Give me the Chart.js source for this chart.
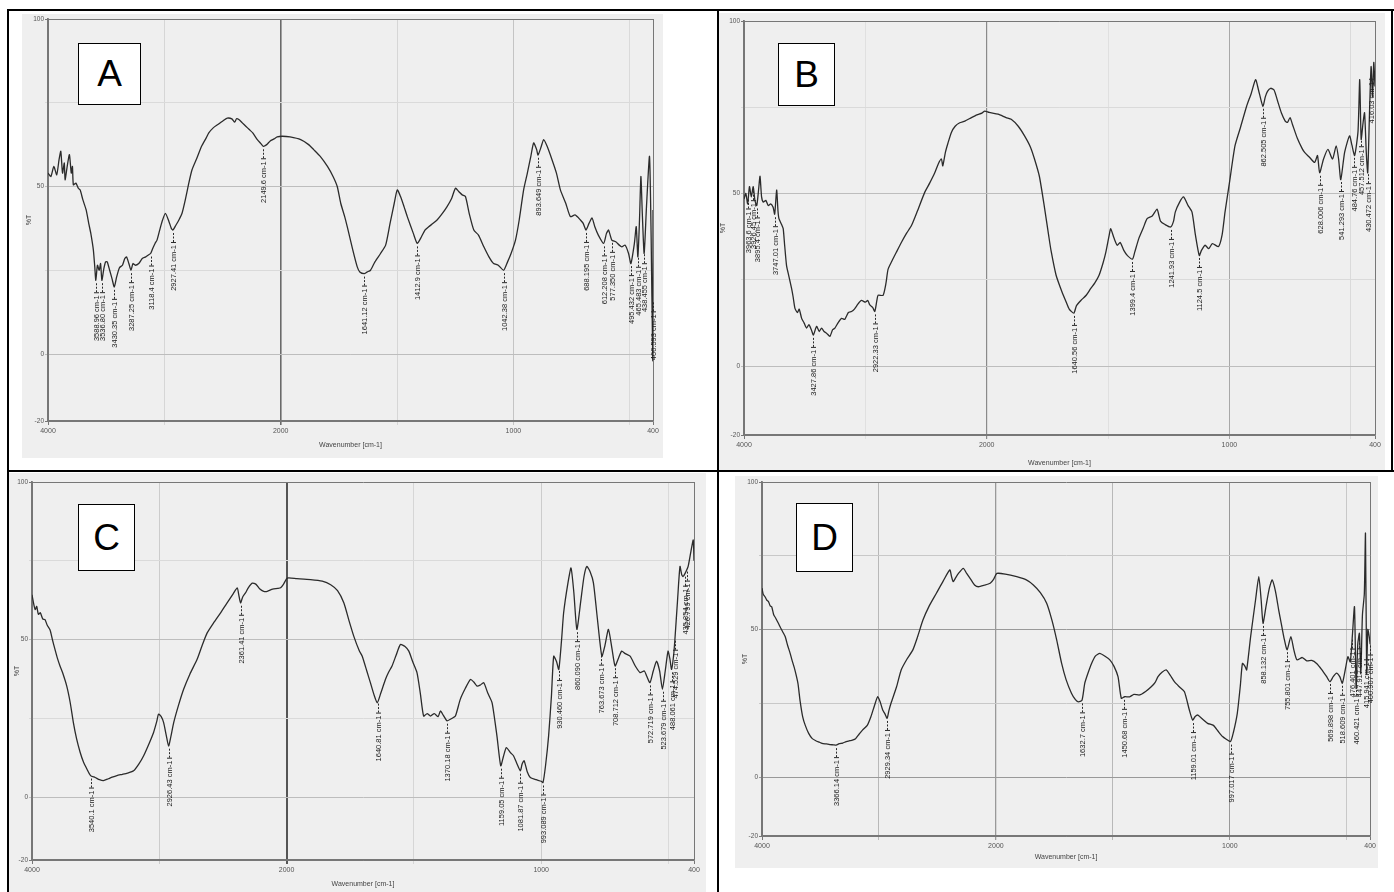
<!DOCTYPE html>
<html>
<head>
<meta charset="utf-8">
<script src="https://cdn.jsdelivr.net/npm/chart.js@4/dist/chart.umd.min.js"></script>
<style>
  html, body { margin: 0; padding: 0; background: #fff; }
  #page { position: relative; width: 1394px; height: 892px; overflow: hidden; background: #fff; }
  .rule { position: absolute; background: #000; }
  .panel { position: absolute; }
  .tag { position: absolute; background: #fff; border: 1px solid #000; box-sizing: border-box;
         font: 37px "Liberation Sans", Arial, sans-serif; color: #000;
         display: flex; align-items: center; justify-content: center; }
</style>
</head>
<body>
<div id="page">
  <div class="rule" style="left:7px;top:9px;width:1387px;height:2px"></div>
  <div class="rule" style="left:7px;top:9px;width:2px;height:883px"></div>
  <div class="rule" style="left:717px;top:9px;width:2px;height:883px"></div>
  <div class="rule" style="left:7px;top:470px;width:1387px;height:2px"></div>
  <div class="rule" style="left:1391px;top:9px;width:2px;height:463px"></div>

  <canvas id="chartA" class="panel" style="left:22px;top:14px" width="641" height="444"></canvas>
  <canvas id="chartB" class="panel" style="left:719px;top:13px" width="666" height="457"></canvas>
  <canvas id="chartC" class="panel" style="left:9px;top:473px" width="697" height="419"></canvas>
  <canvas id="chartD" class="panel" style="left:735px;top:476px" width="643" height="392"></canvas>

  <div class="tag" style="left:78px;top:43px;width:63px;height:62px">A</div>
  <div class="tag" style="left:778px;top:43px;width:57px;height:63px">B</div>
  <div class="tag" style="left:78px;top:504px;width:57px;height:67px">C</div>
  <div class="tag" style="left:796px;top:503px;width:57px;height:69px">D</div>
</div>
<script>
// ejes comunes
const xTickValues = [4000, 3000, 2000, 1500, 1000, 500, 400];
const xTickLabels = [4000, 2000, 1000, 400];
const yTickValues = [-20, 0, 25, 50, 75, 100];
const yTickLabels = [100, 50, 0, -20];

// espectro A
const wnA = [4000,3975,3950,3925,3905,3890,3875,3860,3853,3835,
  3816,3800,3790,3782,3760,3740,3724,3700,3672,3650,
  3632,3610,3598,3589,3575,3560,3548,3537,3520,3505,
  3491,3470,3450,3430,3410,3385,3360,3340,3325,3305,
  3287,3270,3250,3220,3190,3160,3140,3118,3100,3080,
  3063,3040,3020,2991,2960,2940,2927,2900,2875,2848,
  2820,2790,2762,2720,2680,2640,2618,2580,2540,2500,
  2460,2420,2395,2380,2360,2330,2300,2270,2240,2201,
  2170,2150,2120,2090,2057,2030,1993,1960,1914,1880,
  1858,1830,1799,1775,1757,1742,1725,1714,1690,1671,
  1660,1641,1628,1614,1595,1571,1549,1530,1512,1499,
  1485,1470,1456,1430,1413,1395,1380,1364,1345,1328,
  1310,1285,1265,1249,1235,1220,1206,1190,1170,1150,
  1127,1105,1085,1065,1042,1025,1010,991,975,956,
  940,925,913,900,894,880,870,855,834,815,
  798,775,755,735,712,700,688,675,662,650,
  635,612,600,591,577,560,545,534,520,505,
  495,480,472,465,458,452,446,438,428,415,
  408,401,400];
const tA = [54,53,56,53.5,58,60.5,54,57,52,56,
  59.5,54,56,50.5,51,49.5,49,46,43,39,
  36,31,26,22,26.5,25,27,22,25.5,27.5,
  27.5,25,22.5,20,23,25.8,26.5,28.5,29,27,
  25,27,26.5,27,28.5,29,29.5,30,31.5,33,
  34,37,39.5,42,39.5,37.5,37,38.5,40,42,
  46,51,55,58.5,62,64.5,66,67.5,68.5,69.5,
  70.4,70.2,69.2,70.2,70,69,68,67,66,64,
  62.8,62,62.5,63.6,64.2,64.8,65,64.8,64,62.5,
  61,59,56,53,50,45,41,38,31,26,
  24.5,24,24.5,25,27.5,30,32.5,39,45,49,
  47,44,41,36,33,35,37,38,39,40,
  41.5,44,46.5,49.5,48.5,47.5,47,42,37,35.5,
  32,29,27,26.5,25,27.5,30,34,40,49,
  54,59,63,61,59.4,62,64,62,58,54,
  49,45,41,41.5,40,39,37,39,40.6,38,
  35.5,33,36,37,34,33.5,32.5,32,32.5,30,
  27,33,38,29,40,53,42,30,44,59,
  35,-2,43];
const peaksA = ['3588.96 cm-1','3536.80 cm-1','3430.35 cm-1','3287.25 cm-1','3118.4 cm-1',
  '2927.41 cm-1','2149.6 cm-1','1641.12 cm-1','1412.9 cm-1','1042.38 cm-1','893.649 cm-1',
  '688.195 cm-1','612.208 cm-1','577.350 cm-1','495.432 cm-1','465.483 cm-1','438.455 cm-1','400.593 cm-1'];

// espectro B
const wnB = [4000,3985,3970,3955,3940,3924,3910,3895,3880,3868,
  3855,3841,3820,3800,3780,3760,3747,3731,3720,3712,
  3690,3677,3665,3649,3630,3608,3595,3580,3560,3545,
  3525,3505,3484,3465,3445,3428,3402,3380,3361,3340,
  3320,3292,3270,3251,3225,3196,3170,3140,3114,3090,
  3060,3032,3000,2980,2963,2940,2922,2905,2895,2854,
  2830,2813,2780,2744,2700,2660,2620,2570,2510,2470,
  2428,2400,2373,2362,2340,2320,2291,2260,2222,2180,
  2126,2080,2040,2016,1990,1953,1920,1899,1870,1844,
  1820,1803,1783,1762,1745,1735,1714,1690,1673,1660,
  1641,1630,1612,1590,1571,1555,1537,1520,1509,1495,
  1489,1475,1462,1450,1435,1420,1399,1390,1373,1355,
  1339,1318,1298,1290,1284,1265,1242,1230,1223,1205,
  1189,1170,1154,1140,1124,1115,1100,1085,1070,1045,
  1030,1018,1000,977,955,929,910,892,880,862,
  852,843,830,816,800,786,770,761,750,740,
  720,700,690,670,649,637,628,612,594,575,
  560,550,541,525,505,495,484,470,463,457,
  450,443,436,430,422,416,410,405,400];
const tB = [48.4,50,47,52,49,52,48,46.5,51,55,
  49,47.5,48,46.5,47,46,44,51,45,42.7,
  41,39.8,35,29,26,22.5,20,16.7,15.5,16.5,
  13.8,12.5,11,12,10.5,9,11.5,10,11,10,
  9.5,8.6,10.5,11,12.5,13.8,13.5,15.5,15.8,16.5,
  18,19,18.5,19,17.7,17,15.8,19,20.5,20.5,
  24,28,30.5,33,36,38.5,40.7,45,50.4,53,
  56,58.5,60,58,62,64.5,67.7,69.5,70.5,71,
  72,72.8,73.3,73.9,73.5,73,72,71.5,69.5,66.7,
  63.5,60,55,46,38,33.5,26.3,21.5,18.6,16.5,
  15.3,17.5,19,20.5,22.5,24,26.3,30,33,38,
  39.8,37,35,35.8,33.5,32,31,33,37,40,
  42.7,43.5,45.5,43.5,42,41,40.3,42,44.6,47.5,
  49,46.5,44.6,38,32,33.5,35,34,35.5,34.6,
  38,44.6,53,63.8,69,75.3,79,83,80,75.3,
  78,79.6,80.5,80,76.5,73.4,71,70.6,72,70,
  66,63,61.9,60.5,59,61,56,60,62.8,60,
  63.8,60,54,62,66.7,64,61,68,83,65.7,
  70,73.4,62,56,75,86.8,78,88,81];
const peaksB = ['3963.6 cm-1','3926.45 cm-1','3895.4 cm-1','3747.01 cm-1','3427.86 cm-1',
  '2922.33 cm-1','1640.56 cm-1','1399.4 cm-1','1241.93 cm-1','1124.5 cm-1','862.505 cm-1',
  '628.006 cm-1','541.293 cm-1','484.76 cm-1','457.512 cm-1','430.472 cm-1','416.03 cm-1'];

// espectro C
const wnC = [4000,3985,3975,3963,3950,3935,3915,3898,3880,3858,
  3840,3819,3800,3780,3760,3727,3700,3675,3650,3622,
  3595,3569,3540,3504,3470,3439,3400,3370,3333,3290,
  3250,3202,3160,3123,3080,3045,3020,3006,2985,2966,
  2945,2927,2910,2887,2850,2809,2760,2703,2660,2624,
  2570,2520,2470,2420,2388,2375,2362,2345,2323,2300,
  2270,2240,2210,2180,2152,2110,2070,2047,2025,1997,
  1960,1906,1860,1827,1800,1775,1755,1736,1715,1703,
  1685,1671,1657,1644,1630,1612,1600,1586,1570,1553,
  1535,1520,1505,1488,1475,1462,1448,1435,1420,1405,
  1396,1385,1370,1350,1337,1318,1298,1278,1265,1252,
  1240,1226,1210,1193,1174,1159,1148,1137,1120,1109,
  1095,1082,1075,1067,1055,1043,1020,1000,993,983,
  971,960,951,940,931,920,912,895,883,872,
  860,845,832,821,808,795,780,762,750,736,
  722,710,697,684,670,651,630,612,595,586,
  573,560,547,535,524,513,502,495,488,480,
  475,465,455,448,443,435,423,412,403,400];
const tC = [64.2,61,59.5,60.5,58,58.5,56.5,56.3,54.5,53,
  50,46.8,44,41.6,39.5,35.2,30,23.6,18.5,14.2,
  11,8.9,6.8,6.2,5.5,5.2,5.8,6.3,6.8,7.2,
  7.6,8.3,10.5,13.1,17,20.5,24,26.3,25.5,23.6,
  19.5,16.2,19,23.6,29,34.2,39,43.7,48.5,52.1,
  55.5,58.4,61.5,64.5,66.4,64,61.6,63.5,64.8,66.5,
  67.9,67.5,66,65.3,65.3,66,66.2,66.4,67.5,69.5,
  69.3,69,68.5,67.4,65.5,61.6,56,51,46.5,44.7,
  40,36.3,32.5,29.9,33,37.3,39.5,41.6,45,48.4,
  47.8,46.3,43,39.5,33,25.7,26.5,25.7,26.5,25.5,
  27.3,26,24.2,25,25.7,31,34.5,37.3,36.5,35.2,
  35.5,36.3,33,29.9,19.4,9.9,13,15.7,14,13.1,
  10.5,8.3,10.5,11.5,8,6.2,5.5,5,4.6,10,
  19.4,32,44.7,43,40.5,50,58.5,68,72.7,65,
  53.2,62,70,73.2,71.5,68,57,44.7,48,53.2,
  47,41.6,44,46.3,45.5,44.7,41.5,39.5,40,38.4,
  36.3,40,43.1,40,34.2,40,46.3,44,40.5,45,
  50,62,73.2,70.5,70,71,73.2,78,81.6,75];
const peaksC = ['3540.1 cm-1','2926.43 cm-1','2361.41 cm-1','1640.81 cm-1','1370.18 cm-1',
  '1159.05 cm-1','1081.87 cm-1','993.089 cm-1','930.460 cm-1','860.090 cm-1','763.673 cm-1',
  '708.712 cm-1','572.719 cm-1','523.679 cm-1','488.061 cm-1','474.529 cm-1','435.854 cm-1','426.799 cm-1'];

// espectro D
const wnD = [4000,3990,3974,3960,3945,3930,3917,3900,3885,3860,
  3840,3820,3802,3780,3760,3744,3720,3693,3675,3652,
  3630,3601,3570,3540,3510,3486,3450,3420,3390,3366,
  3340,3310,3280,3250,3227,3200,3170,3141,3100,3069,
  3040,3011,2990,2968,2950,2930,2915,2897,2850,2810,
  2760,2710,2670,2624,2570,2509,2450,2394,2380,2365,
  2345,2320,2279,2250,2215,2180,2150,2100,2049,2020,
  1996,1960,1911,1870,1840,1810,1783,1760,1740,1719,
  1700,1677,1660,1648,1632,1620,1605,1591,1575,1556,
  1535,1513,1495,1478,1464,1450,1428,1410,1386,1360,
  1336,1320,1307,1290,1272,1255,1237,1215,1194,1173,
  1159,1148,1137,1115,1095,1070,1050,1031,1015,997,
  985,968,955,946,935,928,911,890,876,866,
  858,845,831,819,805,791,780,768,755,739,
  726,713,690,671,650,629,608,586,572,558,
  544,530,519,505,495,485,476,467,460,453,
  446,440,433,425,420,415,410,404,400];
const tD = [64,62,61.1,60,59.5,58,57.7,55,54,52.1,
  50.5,49,47.6,44.5,42,39.7,36.5,31.8,26,20.4,
  17.5,14.8,13,12.3,11.8,11.4,11.2,11,10.9,10.8,
  11.3,11.5,12,12.3,12.5,13,14.5,15.9,17.5,20.4,
  24,27.2,25.5,22.7,21.5,19.9,22.5,25,30.5,36.3,
  40,43.1,47.5,53.2,58,62.3,66.5,70.2,68,66.2,
  67.5,69,70.7,69,67,65,64.5,65,65.7,67,
  69,68.8,67.9,66.8,65.1,62.5,58.9,53,46.4,38.5,
  33,28.4,26.2,25.5,26,31.8,35.5,38.5,41,41.9,
  41,39.7,37.5,34,26.7,27.2,27.2,28,27.8,29,
  30.6,32,34,35.5,36.3,34.5,32.3,30.5,28.9,22.7,
  19.3,20.5,21,19.5,18.2,17.5,15.5,13.7,12.8,12,
  15,21.6,31,38.5,37.5,36.3,47.6,60,67.9,60,
  52.1,58,64,66.8,63,56.6,52,47,43.1,47.6,
  43,39.7,40.5,39.4,39.5,38.5,36.5,34,32.3,34,
  35.2,34,31.8,37,40.8,39,48,57.7,30,45,
  48.7,35,55,62,82.6,35,50,47.6,45];
const peaksD = ['3366.14 cm-1','2929.34 cm-1','1632.7 cm-1','1450.68 cm-1','1159.01 cm-1',
  '997.017 cm-1','858.132 cm-1','755.801 cm-1','569.898 cm-1','518.609 cm-1',
  '476.401 cm-1','460.421 cm-1','447.917 cm-1','415.941 cm-1','400.907 cm-1'];

// eje de número de onda con escala partida: 4000-2000 comprimido a la mitad
const fwd = w => (w > 2000 ? 2000 + (w - 2000) / 2 : w);
const inv = t => (t > 2000 ? 2000 + (t - 2000) * 2 : t);

class SplitScale extends Chart.LinearScale {
  static id = 'split';
  static defaults = Chart.LinearScale.defaults;
  getPixelForValue(value) {
    const a = fwd(this.min), b = fwd(this.max);
    return this.getPixelForDecimal((fwd(value) - a) / (b - a));
  }
  getValueForPixel(pixel) {
    const a = fwd(this.min), b = fwd(this.max);
    return inv(a + this.getDecimalForPixel(pixel) * (b - a));
  }
}
Chart.register(SplitScale);
Chart.defaults.font.family = '"Liberation Sans", Arial, sans-serif';

function valueAt(points, wn) {
  for (let i = 0; i < points.length - 1; i++) {
    const p = points[i], q = points[i + 1];
    if (wn <= p.x && wn >= q.x) {
      const f = p.x === q.x ? 0 : (p.x - wn) / (p.x - q.x);
      return p.y + f * (q.y - p.y);
    }
  }
  return points[points.length - 1].y;
}

const background = {
  id: 'background',
  beforeDraw(chart) {
    const { ctx, width, height } = chart;
    ctx.save();
    ctx.fillStyle = '#efefef';
    ctx.fillRect(0, 0, width, height);
    ctx.restore();
  }
};

// etiquetas verticales de los picos
const peakLabels = {
  id: 'peakLabels',
  afterDatasetsDraw(chart, args, opts) {
    const { ctx, scales: { x, y } } = chart;
    const pts = chart.data.datasets[0].data;
    ctx.save();
    ctx.fillStyle = '#1a1a1a';
    ctx.strokeStyle = '#2a2a2a';
    ctx.lineWidth = 1;
    ctx.font = '7.5px "Liberation Sans", Arial, sans-serif';
    for (const text of opts.items) {
      const wn = parseFloat(text);
      const px = Math.round(x.getPixelForValue(wn)) + 0.5;
      const py = y.getPixelForValue(valueAt(pts, wn)) + 3;
      ctx.setLineDash([2, 1.5]);
      ctx.beginPath(); ctx.moveTo(px, py); ctx.lineTo(px, py + 9); ctx.stroke();
      ctx.setLineDash([]);
      ctx.beginPath(); ctx.moveTo(px - 2.5, py + 9.5); ctx.lineTo(px + 2.5, py + 9.5); ctx.stroke();
      ctx.save();
      ctx.translate(px, py + 12);
      ctx.rotate(-Math.PI / 2);
      ctx.textAlign = 'right';
      ctx.textBaseline = 'middle';
      ctx.fillText(text, 0, 0);
      ctx.restore();
    }
    ctx.restore();
  }
};

const baseGridX = { 4000: '#777', 3000: '#d6d6d6', 2000: '#6a6a6a', 1500: '#d6d6d6', 1000: '#c4c4c4', 500: '#dadada', 400: '#777' };
const baseGridY = { 100: '#777', 75: '#dadada', 50: '#bdbdbd', 25: '#dadada', 0: '#bdbdbd', '-20': '#777' };

const panels = [
  { id: 'chartA', wn: wnA, t: tA, peaks: peaksA, pad: { top: 5, right: 10 }, yW: 26, xH: 37, xTitlePad: 9, yTitlePad: 3,
    gridX: {}, gridY: {}, w2000: 1.6 },
  { id: 'chartB', wn: wnB, t: tB, peaks: peaksB, pad: { top: 8, right: 10 }, yW: 25, xH: 35, xTitlePad: 3, yTitlePad: 0,
    gridX: { 2000: '#8a8a8a', 1000: '#a8a8a8', 3000: '#e0e0e0', 1500: '#e0e0e0' }, gridY: {}, w2000: 1.2 },
  { id: 'chartC', wn: wnC, t: tC, peaks: peaksC, pad: { top: 9, right: 12 }, yW: 23, xH: 32, xTitlePad: 4, yTitlePad: 4,
    gridX: { 2000: '#555', 1000: '#cccccc', 3000: '#cccccc' }, gridY: {}, w2000: 2 },
  { id: 'chartD', wn: wnD, t: tD, peaks: peaksD, pad: { top: 6, right: 7 }, yW: 27, xH: 32, xTitlePad: 7, yTitlePad: 6,
    gridX: { 2000: '#999', 3000: '#b8b8b8', 1500: '#b8b8b8', 1000: '#999', 500: '#c8c8c8' },
    gridY: { 75: '#c8c8c8', 25: '#c8c8c8', 50: '#999', 0: '#999' }, w2000: 1.3 }
];

panels.forEach(p => {
  const gx = Object.assign({}, baseGridX, p.gridX);
  const gy = Object.assign({}, baseGridY, p.gridY);
  const points = p.wn.map((w, i) => ({ x: w, y: p.t[i] }));
  new Chart(document.getElementById(p.id), {
    type: 'line',
    data: {
      datasets: [{
        data: points,
        borderColor: '#2b2b2b',
        borderWidth: 1.3,
        pointRadius: 0,
        tension: 0.2,
        fill: false
      }]
    },
    options: {
      responsive: false,
      devicePixelRatio: 1,
      animation: false,
      events: [],
      layout: { padding: { left: 0, top: p.pad.top, right: p.pad.right, bottom: 0 } },
      plugins: {
        legend: { display: false },
        tooltip: { enabled: false },
        peakLabels: { items: p.peaks }
      },
      scales: {
        x: {
          type: 'split',
          min: 400,
          max: 4000,
          reverse: true,
          afterBuildTicks: s => { s.ticks = xTickValues.map(v => ({ value: v })); },
          afterFit: s => { s.height = p.xH; },
          ticks: {
            autoSkip: false, maxRotation: 0, minRotation: 0, padding: 2,
            color: '#555', font: { size: 7 },
            callback: v => (xTickLabels.includes(v) ? String(v) : '')
          },
          grid: {
            color: c => gx[c.tick.value] || '#ddd',
            lineWidth: c => (c.tick.value === 2000 ? p.w2000 : 1),
            tickLength: 4
          },
          border: { color: '#777', width: 1.8 },
          title: { display: true, text: 'Wavenumber [cm-1]', color: '#444', font: { size: 7 },
                   padding: { top: 0, bottom: p.xTitlePad } }
        },
        y: {
          min: -20,
          max: 100,
          afterBuildTicks: s => { s.ticks = yTickValues.map(v => ({ value: v })); },
          afterFit: s => { s.width = p.yW; },
          ticks: {
            padding: 1, color: '#555', font: { size: 6.5 },
            callback: v => (yTickLabels.includes(v) ? String(v) : '')
          },
          grid: {
            color: c => gy[c.tick.value] || '#ddd',
            tickLength: 3
          },
          border: { color: '#777', width: 1.8 },
          title: { display: true, text: '%T', color: '#444', font: { size: 7 },
                   padding: { top: p.yTitlePad, bottom: 0 } }
        }
      }
    },
    plugins: [background, peakLabels]
  });
});
</script>
</body>
</html>
